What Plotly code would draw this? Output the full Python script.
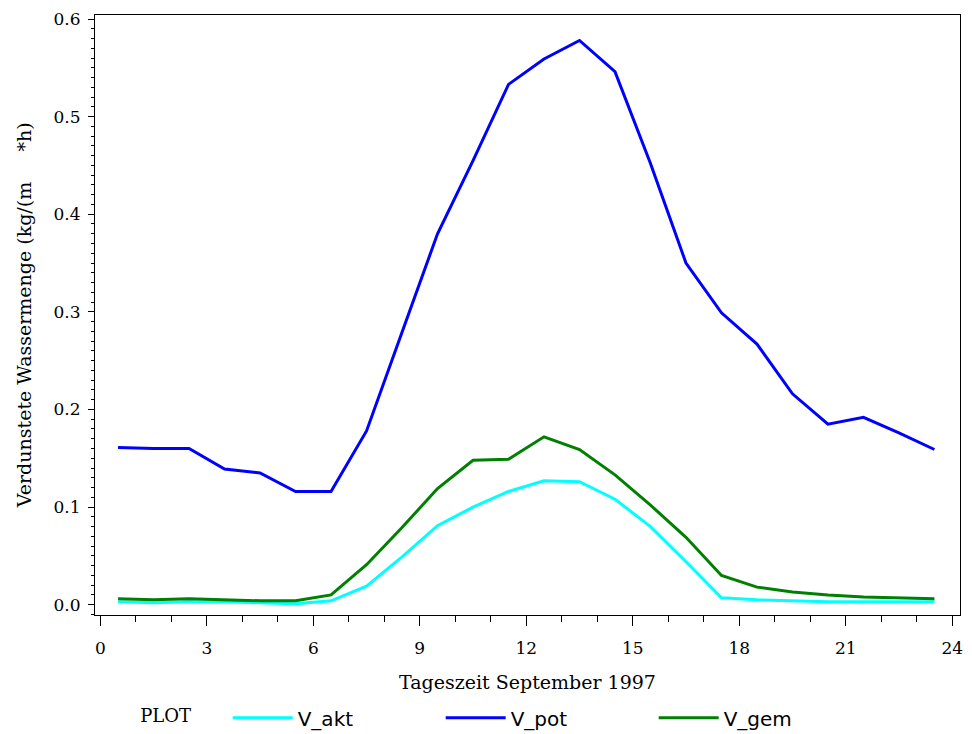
import plotly.graph_objects as go

hours = [0.5, 1.5, 2.5, 3.5, 4.5, 5.5, 6.5, 7.5, 8.5, 9.5, 10.5, 11.5,
         12.5, 13.5, 14.5, 15.5, 16.5, 17.5, 18.5, 19.5, 20.5, 21.5, 22.5, 23.5]

v_akt = [0.003, 0.002, 0.003, 0.003, 0.002, 0.001, 0.004, 0.019, 0.049, 0.081, 0.100, 0.116,
         0.127, 0.126, 0.108, 0.080, 0.044, 0.007, 0.005, 0.004, 0.003, 0.003, 0.003, 0.003]

v_pot = [0.161, 0.160, 0.160, 0.139, 0.135, 0.116, 0.116, 0.178, 0.279, 0.380, 0.455, 0.533,
         0.559, 0.578, 0.546, 0.452, 0.350, 0.299, 0.267, 0.216, 0.185, 0.192, 0.176, 0.159]

v_gem = [0.006, 0.005, 0.006, 0.005, 0.004, 0.004, 0.010, 0.041, 0.079, 0.119, 0.148, 0.149,
         0.172, 0.159, 0.133, 0.102, 0.069, 0.030, 0.018, 0.013, 0.010, 0.008, 0.007, 0.006]

x_ticks = [0, 3, 6, 9, 12, 15, 18, 21, 24]
y_ticks = [0.0, 0.1, 0.2, 0.3, 0.4, 0.5, 0.6]

serif = "DejaVu Serif, serif"
sans = "DejaVu Sans, sans-serif"

fig = go.Figure()
fig.add_trace(go.Scatter(x=hours, y=v_akt, mode="lines", name="V_akt",
                         line=dict(color="#00FFFF", width=3)))
fig.add_trace(go.Scatter(x=hours, y=v_pot, mode="lines", name="V_pot",
                         line=dict(color="#0000FF", width=3)))
fig.add_trace(go.Scatter(x=hours, y=v_gem, mode="lines", name="V_gem",
                         line=dict(color="#008000", width=3)))

fig.update_layout(
    width=972, height=734,
    margin=dict(l=95, r=9, t=14, b=118),
    paper_bgcolor="white", plot_bgcolor="white",
    font=dict(family=serif, size=17, color="black"),
    showlegend=True,
    legend=dict(
        orientation="h", xref="paper", x=0.05, xanchor="left",
        yref="container", y=0.022, yanchor="middle",
        title=dict(text="PLOT     ", font=dict(family=serif, size=18)),
        font=dict(family=sans, size=20),
        entrywidth=138, itemwidth=60,
    ),
)

fig.update_xaxes(
    range=[-0.15, 24.22], tickvals=x_ticks, ticktext=[str(v) for v in x_ticks],
    showgrid=False, zeroline=False, showline=True, linecolor="black", linewidth=1,
    mirror=True, ticks="outside", ticklen=10, tickcolor="black",
    minor=dict(dtick=1, ticks="outside", ticklen=6, tickcolor="black", showgrid=False),
    ticklabelstandoff=8,
    title=dict(text="Tageszeit September 1997", font=dict(family=serif, size=19), standoff=18),
    tickfont=dict(family=serif, size=17),
)
fig.update_yaxes(
    range=[-0.0102, 0.6041], tickvals=y_ticks, ticktext=[f"{v:.1f}" for v in y_ticks],
    showgrid=False, zeroline=False, showline=True, linecolor="black", linewidth=1,
    mirror=True, ticks="outside", ticklen=6, tickcolor="black",
    minor=dict(dtick=0.01, ticks="outside", ticklen=3, tickcolor="black", showgrid=False),
    ticklabelstandoff=4,
    title=dict(text="Verdunstete Wassermenge (kg/(m     *h)", font=dict(family=serif, size=19), standoff=16),
    tickfont=dict(family=serif, size=17),
)

fig.write_html("out.html")
